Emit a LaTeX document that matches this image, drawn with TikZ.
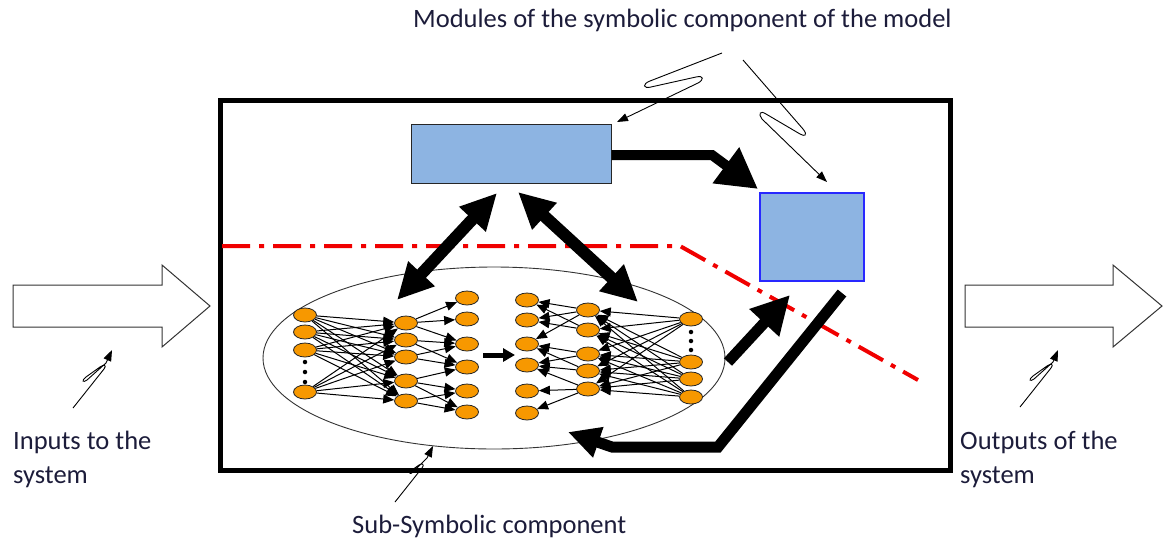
\documentclass[tikz,border=0pt]{standalone}
\usepackage{fontspec}
\setmainfont{Carlito}
\usetikzlibrary{arrows.meta,shapes.geometric}

\definecolor{boxblue}{RGB}{141,180,226}
\definecolor{frameblue}{RGB}{40,40,255}
\definecolor{neuronfill}{RGB}{247,152,0}
\definecolor{labelink}{RGB}{28,28,58}
\definecolor{splitred}{RGB}{240,0,0}

\tikzset{
  neuron/.style={ellipse, draw=black!85, line width=0.8pt, fill=neuronfill,
    minimum width=23pt, minimum height=14pt, inner sep=0pt},
  nnedge/.style={line width=1pt, -{Triangle[length=11pt,width=9pt]}},
  bigarrow/.style={line width=11pt, -{Triangle[length=38pt,width=38pt]}},
  bigdouble/.style={line width=12pt, {Triangle[length=36pt,width=34pt]}-{Triangle[length=36pt,width=34pt]}},
  callout/.style={line width=0.9pt, -{Triangle[length=11pt,width=8pt]}},
  hollow/.style={draw=black!80, line width=1pt, fill=white},
  label/.style={font=\fontsize{26.5}{30}\selectfont, text=labelink, anchor=base west, inner sep=0pt},
  dotmark/.style={circle, fill=black, inner sep=0pt, minimum size=4.5pt},
}

\begin{document}
\begin{tikzpicture}[x=1pt,y=-1pt]
\useasboundingbox (0,0) rectangle (1165,542);

% outer system frame
\draw[line width=5pt] (220,100) rectangle (950,470);

% input and output block arrows
\draw[hollow] (13,285) -- (162,285) -- (162,265) -- (210,306) -- (162,347) -- (162,327) -- (13,327) -- cycle;
\draw[hollow] (965,285) -- (1113,285) -- (1113,265) -- (1162,306) -- (1113,347) -- (1113,327) -- (965,327) -- cycle;

% boundary between symbolic and sub-symbolic parts
\draw[splitred, line width=4pt, dash pattern=on 28pt off 9pt on 5pt off 9pt]
  (222,246) -- (680,246) -- (918,380);

% symbolic modules
\node[draw=black!85, line width=1pt, fill=boxblue, minimum width=200pt, minimum height=59pt,
  inner sep=0pt] (topbox) at (511,153.5) {};
\node[draw=frameblue, line width=1.5pt, fill=boxblue, minimum width=104pt, minimum height=88pt,
  inner sep=0pt] (rbox) at (812,237) {};

% sub-symbolic component
\node[ellipse, draw=black!80, line width=0.9pt, minimum width=462pt, minimum height=182pt,
  inner sep=0pt] (sub) at (494,358) {};

% neurons, layer by layer
\foreach \i/\y in {1/315,2/332,3/350,4/392} \node[neuron] (a\i) at (305,\y) {};
\foreach \i/\y in {1/323,2/340,3/357,4/381,5/401} \node[neuron] (b\i) at (406,\y) {};
\foreach \i/\y in {1/298,2/319,3/344,4/367,5/391,6/412} \node[neuron] (c\i) at (467,\y) {};
\foreach \i/\y in {1/300,2/320,3/344,4/365,5/391,6/413} \node[neuron] (d\i) at (527,\y) {};
\foreach \i/\y in {1/310,2/330,3/354,4/371,5/389} \node[neuron] (e\i) at (588,\y) {};
\foreach \i/\y in {1/319,2/362,3/379,4/397} \node[neuron] (f\i) at (691,\y) {};

\foreach \y [count=\k] in {362,372,382} \node[dotmark] (ad\k) at (305,\y) {};
\foreach \y [count=\k] in {332,341,350} \node[dotmark] (fd\k) at (691,\y) {};

% connections
\foreach \i in {1,...,4} \foreach \j in {1,...,5} \draw[nnedge] (a\i) -- (b\j);
\foreach \i/\j in {1/1,1/2,1/3,2/3,2/4,3/3,3/4,4/4,4/5,4/6,5/5,5/6}
  \draw[nnedge] (b\i) -- (c\j);
\foreach \i/\j in {1/1,1/2,1/3,2/1,2/2,3/3,3/4,4/3,4/4,5/4,5/5,5/6}
  \draw[nnedge] (e\i) -- (d\j);
\foreach \i in {1,...,4} \foreach \j in {1,...,5} \draw[nnedge] (f\i) -- (e\j);

\coordinate (midL) at (483,355);
\coordinate (midR) at (515,355);
\draw[line width=5pt, -{Triangle[length=12pt,width=13pt]}] (midL) -- (midR);

% exchanges between the two components
\coordinate (dl1) at (497,193);
\coordinate (dl2) at (397,300);
\coordinate (dr1) at (518,192);
\coordinate (dr2) at (638,302);
\draw[bigdouble] (dl1) -- (dl2);
\draw[bigdouble] (dr1) -- (dr2);

\coordinate (bendA) at (712,155);
\coordinate (tipA) at (758,189);
\draw[line width=10pt, -{Triangle[length=40pt,width=42pt]}] (topbox.east |- bendA) -- (bendA) -- (tipA);

\coordinate (outS) at (728,362);
\coordinate (outT) at (790,295);
\draw[bigarrow] (outS) -- (outT);

\coordinate (fbS) at (842,293);
\coordinate (fbB) at (718,447);
\coordinate (fbC) at (612,447);
\coordinate (fbT) at (568,432);
\draw[line width=11pt, -{Triangle[length=32pt,width=30pt]}] (fbS) -- (fbB) -- (fbC) -- (fbT);

% labels
\node[label] (tmod) at (413,27) {Modules of the symbolic component of the model};
\node[label] (tin1) at (13,449) {Inputs to the};
\node[label] (tin2) at (13,483) {system};
\node[label] (tout1) at (960,449) {Outputs of the};
\node[label] (tout2) at (960,483) {system};
\node[label] (tsub) at (352,533) {Sub-Symbolic component};

% squiggly pointers from the labels
\coordinate (pm1) at (722,53);
\coordinate (tm1) at (617,122);
\coordinate (pm2) at (743,60);
\coordinate (tm2) at (827,182);
\draw[callout] (pm1) -- (650,81) .. controls (642,84) and (643,89) .. (651,87)
  -- (696,77) .. controls (704,75) and (704,80) .. (698,83) -- (tm1);
\draw[callout] (pm2) -- (803,129) .. controls (808,135) and (805,137) .. (800,134)
  -- (766,114) .. controls (760,110) and (758,114) .. (762,119) -- (tm2);

\coordinate (pin) at (73,408);
\coordinate (tin) at (112,350);
\draw[callout] (pin) -- (104,369) .. controls (107,365) and (104,364) .. (100,367)
  -- (86,377) .. controls (81,381) and (83,383) .. (87,380) -- (106,363) -- (tin);

\coordinate (pout) at (1020,407);
\coordinate (tout) at (1058,350);
\draw[callout] (pout) -- (1051,368) .. controls (1054,364) and (1051,363) .. (1047,366)
  -- (1033,376) .. controls (1028,380) and (1030,382) .. (1034,379) -- (1053,362) -- (tout);

\coordinate (psub) at (395,502);
\coordinate (tsubp) at (433,446);
\draw[callout] (psub) -- (422,468) .. controls (425,464) and (422,463) .. (419,465)
  -- (412,470) .. controls (408,473) and (410,475) .. (413,472) -- (427,458) -- (tsubp);
\end{tikzpicture}
\end{document}
